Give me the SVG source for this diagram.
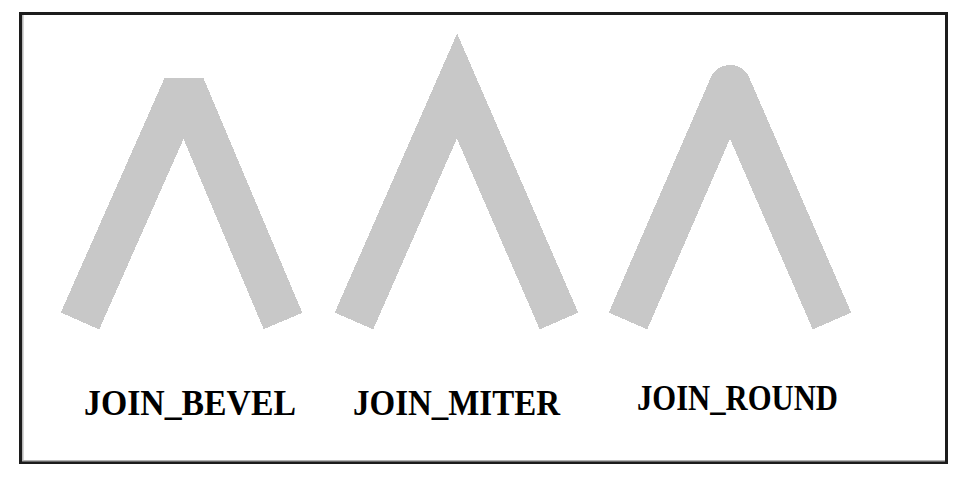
<svg xmlns="http://www.w3.org/2000/svg" width="975" height="488" viewBox="0 0 975 488">
<style>
.frame{fill:#ffffff;stroke:#1c1c1c;stroke-width:3}
.shade{stroke:#b4b4b4;stroke-width:1.5;fill:none}
.join{fill:none;stroke:#c8c8c8;stroke-width:42;stroke-linecap:butt;shape-rendering:crispEdges}
.lbl{font-family:"Liberation Serif","DejaVu Serif",serif;font-weight:bold;font-size:35px;fill:#000000;text-anchor:middle}
</style>
<rect width="975" height="488" fill="#ffffff"/>
<rect class="frame" x="20.5" y="13.5" width="926" height="449"/>
<path class="shade" d="M22.8,15 V460.8 H945"/>
<g id="bevel">
<polyline class="join" stroke-linejoin="bevel" points="80,321 184,86 283,321"/>
<text class="lbl" x="190" y="415" textLength="212" lengthAdjust="spacingAndGlyphs">JOIN_BEVEL</text>
</g>
<g id="miter">
<polyline class="join" stroke-linejoin="miter" stroke-miterlimit="10" points="354,321 457,86 559,321"/>
<text class="lbl" x="456.5" y="415" textLength="207" lengthAdjust="spacingAndGlyphs">JOIN_MITER</text>
</g>
<g id="round">
<polyline class="join" stroke-linejoin="round" points="628,321 730,86 832,321"/>
<text class="lbl" x="737.5" y="410" textLength="201" lengthAdjust="spacingAndGlyphs">JOIN_ROUND</text>
</g>
</svg>
